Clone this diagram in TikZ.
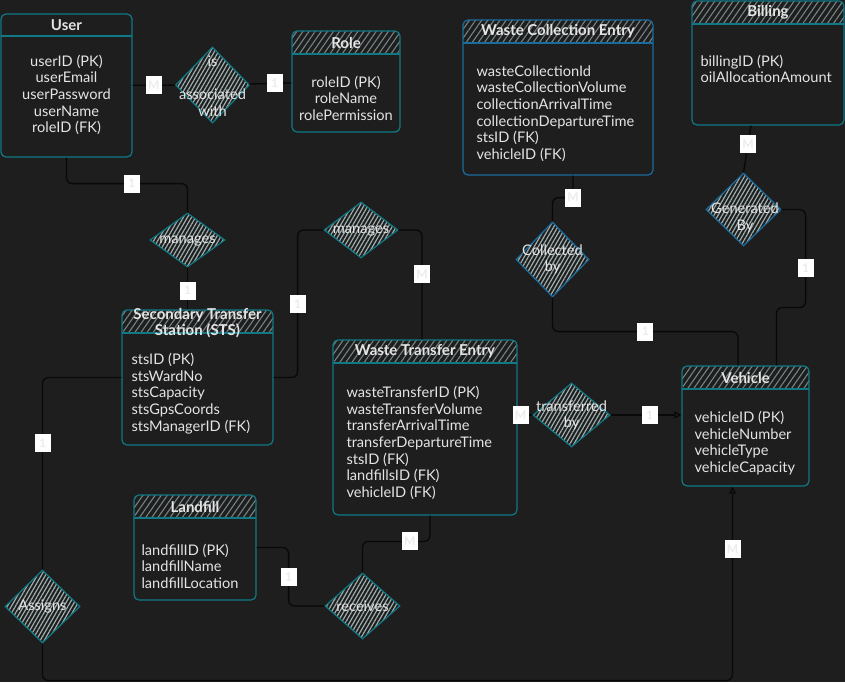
\documentclass[tikz,border=0pt]{standalone}
\usepackage{fontspec}
\setmainfont{Lato}
\usetikzlibrary{shapes.geometric, arrows.meta, patterns.meta}
\definecolor{canvas}{RGB}{30,30,30}
\definecolor{edgeteal}{RGB}{16,121,133}
\definecolor{edgeblue}{RGB}{27,108,158}
\definecolor{hatchgrey}{RGB}{118,132,133}
\definecolor{hatchlight}{RGB}{158,174,174}
\definecolor{inktext}{RGB}{228,228,228}
\definecolor{linkblack}{RGB}{8,8,8}
\definecolor{cardtext}{RGB}{236,236,236}

\begin{document}
\begin{tikzpicture}[
    x=1pt, y=-1pt,
    every node/.style={text=inktext, font=\fontsize{14.6}{16.6}\selectfont},
    entity/.style={rectangle, rounded corners=5pt, draw=#1, line width=1.2pt, fill=canvas, inner sep=0pt,
        path picture={
            \fill[pattern={Lines[angle=55, distance=5pt, line width=1.1pt]}, pattern color=hatchgrey]
                (path picture bounding box.north west) rectangle ([yshift=-23pt]path picture bounding box.north east);
            \draw[#1, line width=1.2pt] ([yshift=-23pt]path picture bounding box.north west) -- ([yshift=-23pt]path picture bounding box.north east);
        }},
    entity/.default=edgeteal,
    plainentity/.style={rectangle, rounded corners=5pt, draw=edgeteal, line width=1.2pt, fill=canvas, inner sep=0pt,
        path picture={
            \draw[edgeteal, line width=1.2pt] ([yshift=-22pt]path picture bounding box.north west) -- ([yshift=-22pt]path picture bounding box.north east);
        }},
    head/.style={font=\bfseries\fontsize{15}{16}\selectfont, align=center},
    attr/.style={align=left, anchor=west},
    attrc/.style={align=center},
    rel/.style={diamond, draw=#1, line width=1.2pt, inner sep=0pt,
        pattern={Lines[angle=60, distance=3.5pt, line width=1.2pt]}, pattern color=hatchlight},
    rel/.default=edgeteal,
    reltext/.style={align=center},
    link/.style={draw=linkblack, line width=1.3pt, rounded corners=6pt},
    card/.style={fill=white, text=cardtext, font=\bfseries\fontsize{12}{12}\selectfont, sharp corners,
        minimum width=16, minimum height=18, inner sep=0pt},
]
\useasboundingbox (0,0) rectangle (845,682);
\fill[canvas] (0,0) rectangle (845,682);

% entities
\node[plainentity, minimum width=131, minimum height=143] (user) at (66.5,85.5) {};
\node[head] (userhead) at (66.5,25) {User};
\node[attrc] (userattr) at (66.5,95) {userID (PK)\\userEmail\\userPassword\\userName\\roleID (FK)};

\node[entity, minimum width=108, minimum height=101] (role) at (346,81.5) {};
\node[head] (rolehead) at (346,42.5) {Role};
\node[attrc] (roleattr) at (346,98) {roleID (PK)\\roleName\\rolePermission};

\node[entity=edgeblue, minimum width=190, minimum height=155] (wce) at (558,97.5) {};
\node[head] (wcehead) at (558,31.5) {Waste Collection Entry};
\node[attr] (wceattr) at (473,113.5) {wasteCollectionId\\wasteCollectionVolume\\collectionArrivalTime\\collectionDepartureTime\\stsID (FK)\\vehicleID (FK)};

\node[entity, minimum width=152, minimum height=124] (billing) at (768,63) {};
\node[head] (billinghead) at (768,12.5) {Billing};
\node[attr] (billingattr) at (697,69) {billingID (PK)\\oilAllocationAmount};

\node[entity, minimum width=151, minimum height=135] (sts) at (197.5,377.5) {};
\node[head] (stshead) at (197.5,323) {Secondary Transfer\\Station (STS)};
\node[attr] (stsattr) at (128,393.5) {stsID (PK)\\stsWardNo\\stsCapacity\\stsGpsCoords\\stsManagerID (FK)};

\node[entity, minimum width=184, minimum height=175] (wte) at (425,427.5) {};
\node[head] (wtehead) at (425,351.5) {Waste Transfer Entry};
\node[attr] (wteattr) at (343,443) {wasteTransferID (PK)\\wasteTransferVolume\\transferArrivalTime\\transferDepartureTime\\stsID (FK)\\landfillsID (FK)\\vehicleID (FK)};

\node[entity, minimum width=127, minimum height=120] (vehicle) at (745.5,426) {};
\node[head] (vehiclehead) at (745.5,377.5) {Vehicle};
\node[attr] (vehicleattr) at (691,443) {vehicleID (PK)\\vehicleNumber\\vehicleType\\vehicleCapacity};

\node[entity, minimum width=122, minimum height=105] (landfill) at (195,547.5) {};
\node[head] (landfillhead) at (195,507) {Landfill};
\node[attr] (landfillattr) at (138,566) {landfillID (PK)\\landfillName\\landfillLocation};

% relationships
\node[rel, minimum width=74, minimum height=76] (assoc) at (212.5,85) {};
\node[reltext] (assoctext) at (212.5,86) {is\\[16.6pt]associated\\with};
\node[rel, minimum width=75, minimum height=54] (mgr1) at (187.5,240) {};
\node[reltext] (mgr1text) at (187.5,241) {manages};
\node[rel, minimum width=74, minimum height=56] (mgr2) at (361,230) {};
\node[reltext] (mgr2text) at (361,231) {manages};
\node[rel, minimum width=77, minimum height=64] (trans) at (571.5,415) {};
\node[reltext] (transtext) at (571.5,415.5) {transferred\\by};
\node[rel=edgeblue, minimum width=73, minimum height=75] (coll) at (552.5,259.5) {};
\node[reltext] (colltext) at (552.5,259.5) {Collected\\by};
\node[rel=edgeblue, minimum width=75, minimum height=73] (gen) at (743.5,209.5) {};
\node[reltext] (gentext) at (745,218) {Generated\\By};
\node[rel, minimum width=75, minimum height=66] (recv) at (362.5,606) {};
\node[reltext] (recvtext) at (362.5,606) {receives};
\node[rel, minimum width=75, minimum height=73] (assigns) at (42.5,606.5) {};
\node[reltext] (assignstext) at (42.5,606) {Assigns};

% connectors
\draw[link] (user) -- node[card]{M} (assoc);
\draw[link] (assoc) -- node[card, pos=0.6]{1} (role);
\draw[link] (user.south) -- ++(0,26) -| node[card, pos=0.27]{1} (mgr1.north);
\draw[link] (mgr1.south) -- node[card, pos=0.55]{1} (mgr1.south |- sts.north);
\draw[link] (sts.east) -- ++(24,0) |- node[card, pos=0.25]{1} (mgr2.west);
\draw[link] (mgr2.east) -| node[card, pos=0.7]{M} ([xshift=-3pt]wte.north);
\draw[link] (trans.west -| wte.east) -- node[card, pos=0.2]{M} (trans.west);
\draw[link, -{Triangle[open, length=7pt, width=7pt]}] (trans.east) -- node[card, pos=0.55]{1} (trans.east -| vehicle.west);
\draw[link] ([xshift=15pt]wce.south) -- ++(0,22) node[card]{M} -| (coll.north);
\draw[link] (coll.south) -- ++(0,34) -| node[card, pos=0.25]{1} ([xshift=-7.5pt]vehicle.north);
\draw[link] ([xshift=-17pt]billing.south) -- node[card, pos=0.4]{M} (gen.north);
\draw[link] (gen.east) -- ++(24,0) -- node[card, pos=0.6]{1} ++(0,98) -| ([xshift=31pt]vehicle.north);
\draw[link] (sts.west) -| node[card, pos=0.67]{1} (assigns.north);
\draw[link, -{Triangle[open, length=7pt, width=7pt]}] (assigns.south) -- ++(0,37) -| node[card, pos=0.84]{M} ([xshift=-13pt]vehicle.south);
\draw[link] (landfill.east) -- ++(32,0) |- node[card, pos=0.25]{1} (recv.west);
\draw[link] (recv.north) -- ++(0,-31) -| node[card, pos=0.35]{M} ([xshift=5pt]wte.south);

\end{tikzpicture}
\end{document}
